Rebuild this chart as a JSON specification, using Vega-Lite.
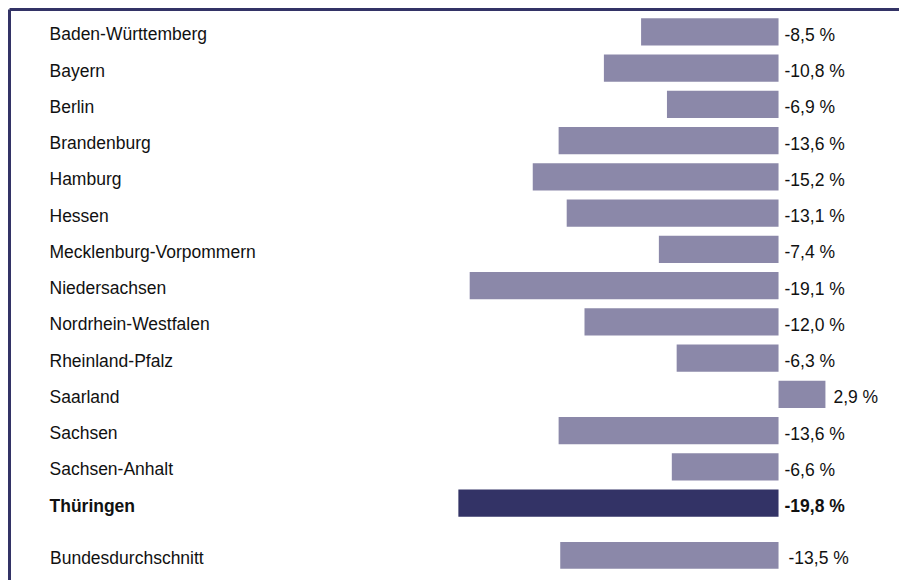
{
  "$schema": "https://vega.github.io/schema/vega-lite/v6.json",
  "padding": {"left": 9, "top": 9, "right": 0, "bottom": 0},
  "autosize": {"type": "pad"},
  "background": "white",
  "width": 890,
  "height": 571,
  "config": {
    "view": {"stroke": null},
    "font": "Liberation Sans",
    "axis": {"grid": false}
  },
  "datasets": {
    "laender": [
      {"land": "Baden-Württemberg", "value": -8.5, "label": "-8,5 %"},
      {"land": "Bayern", "value": -10.8, "label": "-10,8 %"},
      {"land": "Berlin", "value": -6.9, "label": "-6,9 %"},
      {"land": "Brandenburg", "value": -13.6, "label": "-13,6 %"},
      {"land": "Hamburg", "value": -15.2, "label": "-15,2 %"},
      {"land": "Hessen", "value": -13.1, "label": "-13,1 %"},
      {"land": "Mecklenburg-Vorpommern", "value": -7.4, "label": "-7,4 %"},
      {"land": "Niedersachsen", "value": -19.1, "label": "-19,1 %"},
      {"land": "Nordrhein-Westfalen", "value": -12.0, "label": "-12,0 %"},
      {"land": "Rheinland-Pfalz", "value": -6.3, "label": "-6,3 %"},
      {"land": "Saarland", "value": 2.9, "label": "2,9 %"},
      {"land": "Sachsen", "value": -13.6, "label": "-13,6 %"},
      {"land": "Sachsen-Anhalt", "value": -6.6, "label": "-6,6 %"},
      {"land": "Thüringen", "value": -19.8, "label": "-19,8 %"}
    ],
    "bund": [
      {"land": "Bundesdurchschnitt", "value": -13.5, "label": "-13,5 %"}
    ]
  },
  "layer": [
    {
      "data": {"name": "laender"},
      "encoding": {
        "y": {
          "field": "land",
          "type": "nominal",
          "sort": null,
          "scale": {
            "domain": ["Baden-Württemberg", "Bayern", "Berlin", "Brandenburg", "Hamburg", "Hessen", "Mecklenburg-Vorpommern", "Niedersachsen", "Nordrhein-Westfalen", "Rheinland-Pfalz", "Saarland", "Sachsen", "Sachsen-Anhalt", "Thüringen"],
            "paddingInner": 0.25,
            "paddingOuter": 1.025,
            "align": 0.128
          },
          "axis": {
            "title": null,
            "orient": "left",
            "domain": true,
            "domainColor": "#333366",
            "domainWidth": 3,
            "ticks": false,
            "tickSize": 0,
            "labelAlign": "left",
            "labelBaseline": "middle",
            "labelPadding": -40,
            "labelOffset": 3.5,
            "labelFontSize": 17.5,
            "labelColor": "#111111",
            "labelLimit": 400,
            "labelFontWeight": {"condition": {"test": "datum.value === 'Thüringen'", "value": "bold"}, "value": "normal"}
          }
        }
      },
      "layer": [
        {
          "mark": {"type": "bar"},
          "encoding": {
            "x": {
              "field": "value",
              "type": "quantitative",
              "scale": {"domain": [-47.59, 7.45], "nice": false, "zero": false},
              "axis": {
                "orient": "top",
                "title": null,
                "domain": true,
                "domainColor": "#333366",
                "domainWidth": 3,
                "ticks": false,
                "labels": false,
                "grid": false
              }
            },
            "x2": {"datum": 0},
            "color": {
              "condition": {"test": "datum.land === 'Thüringen'", "value": "#333366"},
              "value": "#8b88a9"
            }
          }
        },
        {
          "transform": [{"filter": "datum.value < 0 && datum.land !== 'Thüringen'"}],
          "mark": {"type": "text", "align": "left", "baseline": "middle", "dx": 6, "dy": 4, "fontSize": 17.5, "color": "#111111"},
          "encoding": {
            "x": {"datum": 0},
            "text": {"field": "label"}
          }
        },
        {
          "transform": [{"filter": "datum.land === 'Thüringen'"}],
          "mark": {"type": "text", "align": "left", "baseline": "middle", "dx": 6, "dy": 4, "fontSize": 17.5, "fontWeight": "bold", "color": "#111111"},
          "encoding": {
            "x": {"datum": 0},
            "text": {"field": "label"}
          }
        },
        {
          "transform": [{"filter": "datum.value >= 0"}],
          "mark": {"type": "text", "align": "left", "baseline": "middle", "dx": 8, "dy": 4, "fontSize": 17.5, "color": "#111111"},
          "encoding": {
            "x": {"field": "value", "type": "quantitative"},
            "text": {"field": "label"}
          }
        }
      ]
    },
    {
      "data": {"name": "bund"},
      "encoding": {
        "y": {
          "field": "land",
          "type": "nominal",
          "scale": {
            "domain": ["Baden-Württemberg", "Bayern", "Berlin", "Brandenburg", "Hamburg", "Hessen", "Mecklenburg-Vorpommern", "Niedersachsen", "Nordrhein-Westfalen", "Rheinland-Pfalz", "Saarland", "Sachsen", "Sachsen-Anhalt", "Thüringen", "Bundesdurchschnitt"],
            "paddingInner": 0.25,
            "paddingOuter": 0.666,
            "align": 0.76
          },
          "axis": {
            "title": null,
            "orient": "right",
            "values": ["Bundesdurchschnitt"],
            "domain": false,
            "ticks": false,
            "tickSize": 0,
            "labelAlign": "left",
            "labelBaseline": "middle",
            "labelPadding": -849.5,
            "labelOffset": 3.5,
            "labelFontSize": 17.5,
            "labelColor": "#111111",
            "labelLimit": 400
          }
        }
      },
      "layer": [
        {
          "mark": {"type": "bar", "color": "#8b88a9"},
          "encoding": {
            "x": {"field": "value", "type": "quantitative"},
            "x2": {"datum": 0}
          }
        },
        {
          "mark": {"type": "text", "align": "left", "baseline": "middle", "dx": 10, "dy": 4, "fontSize": 17.5, "color": "#111111"},
          "encoding": {
            "x": {"datum": 0},
            "text": {"field": "label"}
          }
        }
      ]
    }
  ],
  "resolve": {"scale": {"y": "independent"}, "axis": {"y": "independent"}}
}
